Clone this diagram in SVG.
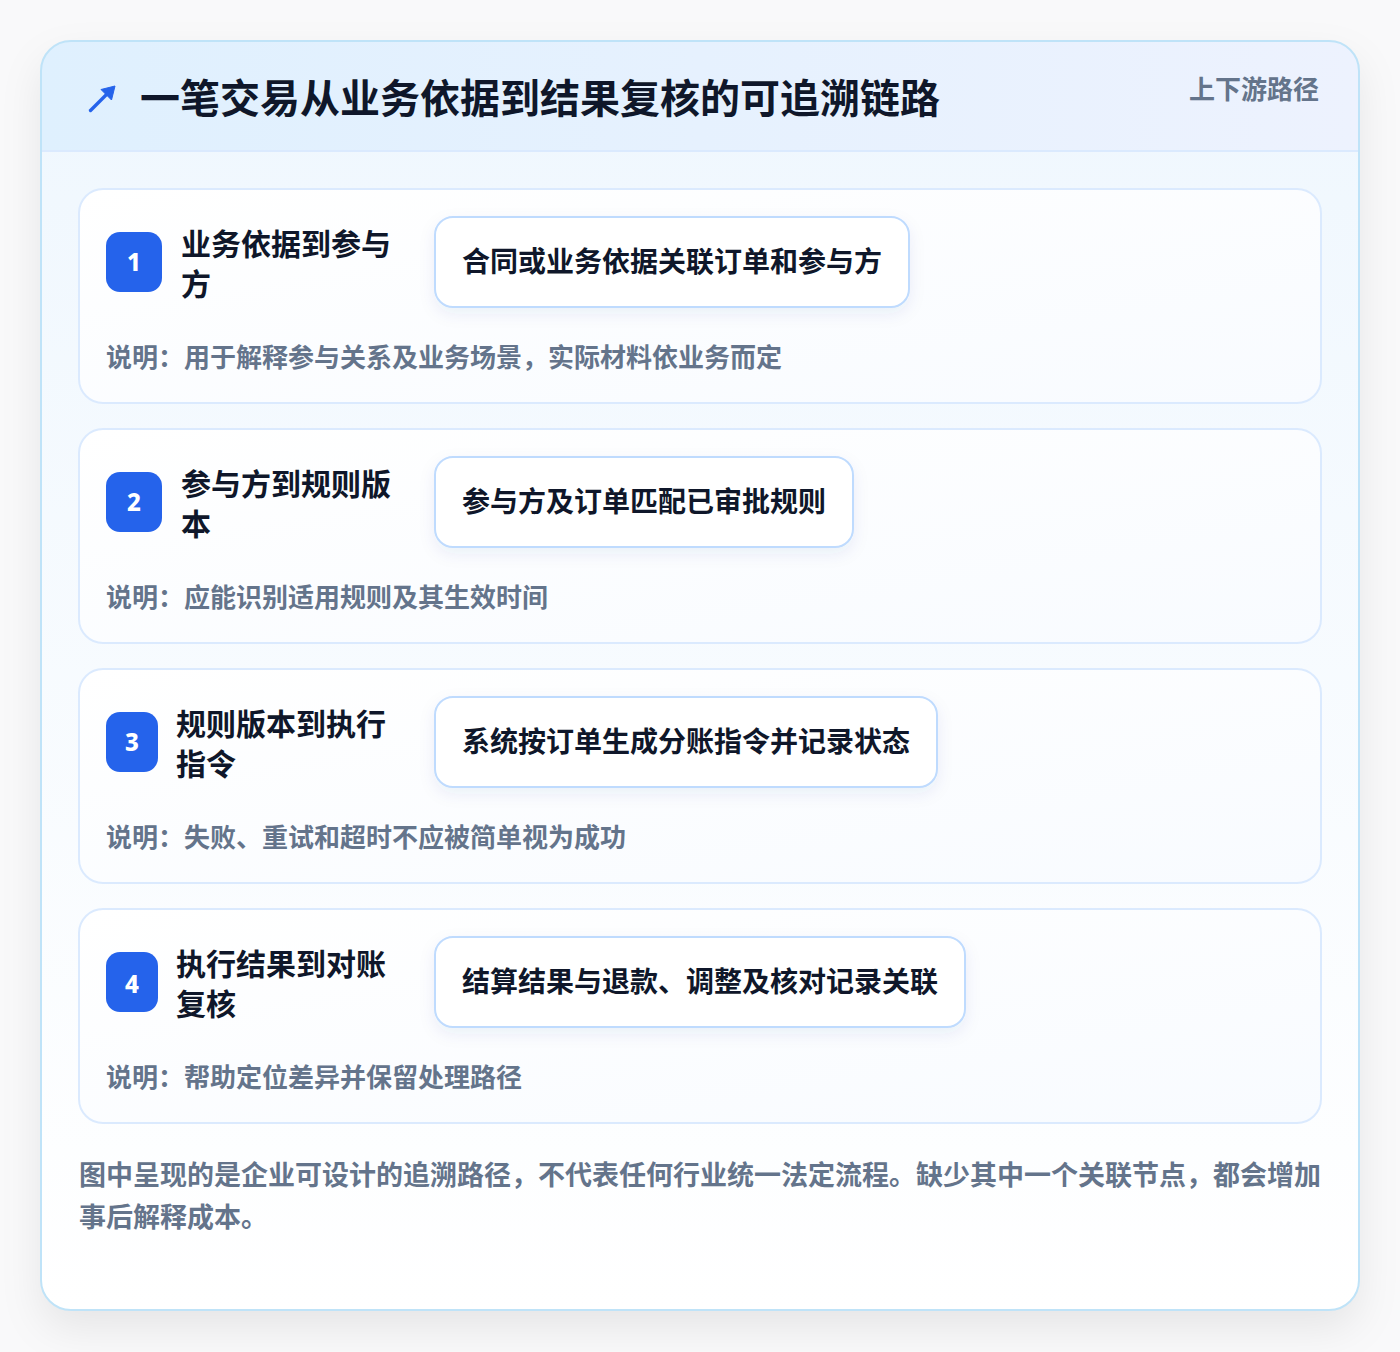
<svg xmlns="http://www.w3.org/2000/svg" width="1400" height="1352" viewBox="0 0 1400 1352">
  <defs>
    <linearGradient id="bodyGrad" x1="0" y1="0" x2="0" y2="1">
      <stop offset="0" stop-color="#eff7fe"/>
      <stop offset="1" stop-color="#ffffff"/>
    </linearGradient>
    <linearGradient id="headGrad" x1="0" y1="0" x2="1" y2="0">
      <stop offset="0" stop-color="#dff0fe"/>
      <stop offset="1" stop-color="#edf2fe"/>
    </linearGradient>
    <linearGradient id="cardGrad" x1="0" y1="0" x2="1" y2="1">
      <stop offset="0" stop-color="#ffffff"/>
      <stop offset="1" stop-color="#f8fbff"/>
    </linearGradient>
    <clipPath id="outerClip">
      <rect x="41" y="41" width="1318" height="1269" rx="30"/>
    </clipPath>
    <filter id="outerShadow" x="-10%" y="-10%" width="120%" height="125%">
      <feDropShadow dx="0" dy="18" stdDeviation="20" flood-color="#0f172a" flood-opacity="0.08"/>
    </filter>
    <filter id="pillShadow" x="-10%" y="-30%" width="120%" height="170%">
      <feDropShadow dx="0" dy="6" stdDeviation="8" flood-color="#1e3a8a" flood-opacity="0.07"/>
    </filter>
    <style>
      text { font-family: "Noto Sans CJK SC", "Noto Sans", sans-serif; font-weight: 700; }
      .title { font-size: 40px; fill: #0f172a; }
      .tag { font-size: 26px; fill: #64748b; }
      .card { fill: url(#cardGrad); stroke: #dbeafe; stroke-width: 2; }
      .badge { fill: #2563eb; }
      .num { font-size: 24px; fill: #ffffff; text-anchor: middle; font-family: "Noto Sans", "Open Sans", sans-serif; font-weight: 800; }
      .ctitle { font-size: 30px; fill: #0f172a; }
      .pill { fill: #ffffff; stroke: #bfdbfe; stroke-width: 2; }
      .ptext { font-size: 28px; fill: #0f172a; }
      .desc { font-size: 26px; fill: #64748b; }
      .foot { font-size: 27px; fill: #64748b; }
    </style>
  </defs>
  <rect x="0" y="0" width="1400" height="1352" fill="#f9f9fa"/>

  <g id="frame">
    <rect x="41" y="41" width="1318" height="1269" rx="30" fill="url(#bodyGrad)" filter="url(#outerShadow)"/>
    <g clip-path="url(#outerClip)">
      <rect x="41" y="41" width="1318" height="110" fill="url(#headGrad)"/>
      <line x1="41" y1="151" x2="1359" y2="151" stroke="#dbeafe" stroke-width="2"/>
    </g>
    <rect x="41" y="41" width="1318" height="1269" rx="30" fill="none" stroke="#bfe3f8" stroke-width="2"/>
  </g>

  <g id="header">
    <g id="icon">
      <line x1="90.5" y1="110.5" x2="109" y2="92" stroke="#2563eb" stroke-width="3.4" stroke-linecap="round"/>
      <polygon points="115,86 101,89.5 111.5,100" fill="#2563eb" stroke="#2563eb" stroke-width="1" stroke-linejoin="round"/>
    </g>
    <text class="title" x="140" y="113">一笔交易从业务依据到结果复核的可追溯链路</text>
    <text class="tag" x="1319" y="99" text-anchor="end">上下游路径</text>
  </g>

  <g id="connectors"></g>

  <g id="step1">
    <rect class="card" x="79" y="189" width="1242" height="214" rx="24"/>
    <rect class="badge" x="106" y="232" width="56" height="60" rx="14"/>
    <text class="num" x="134" y="271">1</text>
    <text class="ctitle" x="181" y="255">业务依据到参与</text>
    <text class="ctitle" x="181" y="295">方</text>
    <rect class="pill" x="435" y="217" width="474" height="90" rx="18" filter="url(#pillShadow)"/>
    <text class="ptext" x="462" y="272">合同或业务依据关联订单和参与方</text>
    <text class="desc" x="106" y="367">说明：用于解释参与关系及业务场景，实际材料依业务而定</text>
  </g>

  <g id="step2">
    <rect class="card" x="79" y="429" width="1242" height="214" rx="24"/>
    <rect class="badge" x="106" y="472" width="56" height="60" rx="14"/>
    <text class="num" x="134" y="511">2</text>
    <text class="ctitle" x="181" y="495">参与方到规则版</text>
    <text class="ctitle" x="181" y="535">本</text>
    <rect class="pill" x="435" y="457" width="418" height="90" rx="18" filter="url(#pillShadow)"/>
    <text class="ptext" x="462" y="512">参与方及订单匹配已审批规则</text>
    <text class="desc" x="106" y="607">说明：应能识别适用规则及其生效时间</text>
  </g>

  <g id="step3">
    <rect class="card" x="79" y="669" width="1242" height="214" rx="24"/>
    <rect class="badge" x="106" y="712" width="52" height="60" rx="14"/>
    <text class="num" x="132" y="751">3</text>
    <text class="ctitle" x="176" y="735">规则版本到执行</text>
    <text class="ctitle" x="176" y="775">指令</text>
    <rect class="pill" x="435" y="697" width="502" height="90" rx="18" filter="url(#pillShadow)"/>
    <text class="ptext" x="462" y="752">系统按订单生成分账指令并记录状态</text>
    <text class="desc" x="106" y="847">说明：失败、重试和超时不应被简单视为成功</text>
  </g>

  <g id="step4">
    <rect class="card" x="79" y="909" width="1242" height="214" rx="24"/>
    <rect class="badge" x="106" y="952" width="52" height="60" rx="14"/>
    <text class="num" x="132" y="993">4</text>
    <text class="ctitle" x="176" y="975">执行结果到对账</text>
    <text class="ctitle" x="176" y="1015">复核</text>
    <rect class="pill" x="435" y="937" width="530" height="90" rx="18" filter="url(#pillShadow)"/>
    <text class="ptext" x="462" y="992">结算结果与退款、调整及核对记录关联</text>
    <text class="desc" x="106" y="1087">说明：帮助定位差异并保留处理路径</text>
  </g>

  <g id="footnote">
    <text class="foot" x="79" y="1185">图中呈现的是企业可设计的追溯路径，不代表任何行业统一法定流程。缺少其中一个关联节点，都会增加</text>
    <text class="foot" x="79" y="1227">事后解释成本。</text>
  </g>
</svg>
